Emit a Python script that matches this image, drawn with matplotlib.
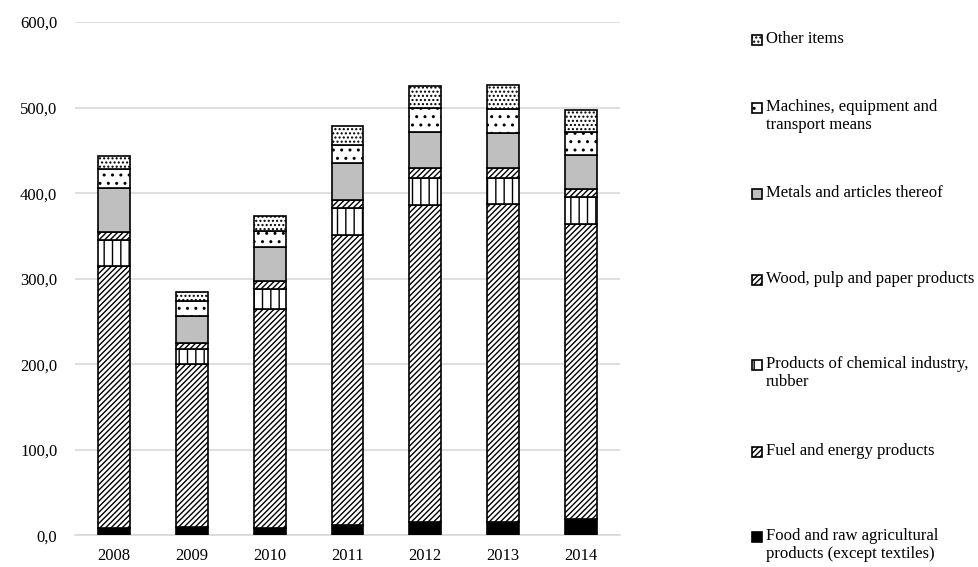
import matplotlib.pyplot as plt
from matplotlib.patches import Rectangle
from matplotlib.ticker import FuncFormatter
import numpy as np

plt.rcParams['font.family'] = ['Liberation Serif', 'DejaVu Serif']
plt.rcParams['hatch.linewidth'] = 1.0

years = ['2008', '2009', '2010', '2011', '2012', '2013', '2014']

food = [9, 10, 9, 12, 16, 16, 19]
fuel = [306, 190, 256, 339, 370, 371, 345]
chemical = [30, 18, 23, 32, 32, 31, 31]
wood = [10, 7, 9, 9, 11, 11, 10]
metals = [51, 31, 40, 43, 43, 41, 40]
machines = [22, 18, 19, 21, 27, 28, 27]
other = [16, 11, 17, 23, 26, 29, 25]

labels = ['Food and raw agricultural\nproducts (except textiles)',
          'Fuel and energy products',
          'Products of chemical industry,\nrubber',
          'Wood, pulp and paper products',
          'Metals and articles thereof',
          'Machines, equipment and\ntransport means',
          'Other items']
series = [food, fuel, chemical, wood, metals, machines, other]
# fill colour and hatch for each group, bottom to top
styles = [('black', ''), ('white', '//////'), ('white', '||'), ('white', '//////'),
          ('#bfbfbf', ''), ('white', '..'), ('white', '....')]

fig = plt.figure(figsize=(9.79, 5.67), dpi=100)
ax = fig.add_axes([0.077, 0.056, 0.556, 0.905])

x = np.arange(len(years))
bottom = np.zeros(len(years))
for vals, (fc, hatch) in zip(series, styles):
    ax.bar(x, vals, width=0.41, bottom=bottom, color=fc, hatch=hatch,
           edgecolor='black', linewidth=1.2, zorder=3)
    bottom += np.array(vals)

ax.set_xlim(-0.5, 6.5)
ax.set_ylim(0, 600)
ax.set_yticks(np.arange(0, 601, 100))
ax.yaxis.set_major_formatter(FuncFormatter(lambda v, p: f'{v:.1f}'.replace('.', ',')))
ax.set_xticks(x)
ax.set_xticklabels(years)
ax.tick_params(axis='both', length=0, labelsize=12, colors='black')
ax.tick_params(axis='y', pad=13)
ax.tick_params(axis='x', pad=9)
ax.grid(axis='y', color='#d9d9d9', linewidth=1.2, zorder=0)
for s in ['top', 'right', 'left']:
    ax.spines[s].set_visible(False)
ax.spines['bottom'].set_color('#d9d9d9')
ax.spines['bottom'].set_linewidth(1.2)

# legend on the right, top entry first
W, H = 979.0, 567.0
ys = [40, 108, 194, 280, 365, 452, 537]
for k, yc in enumerate(ys):
    i = len(series) - 1 - k
    fc, hatch = styles[i]
    fig.patches.append(Rectangle((752 / W, 1 - (yc + 5) / H), 10 / W, 10 / H,
                                 transform=fig.transFigure, facecolor=fc,
                                 hatch=hatch, edgecolor='black', linewidth=1.2))
    fig.text(766 / W, 1 - (yc - 9) / H, labels[i], fontsize=12, va='top',
             ha='left', linespacing=1.15)

fig.savefig('out.png', dpi=100)
